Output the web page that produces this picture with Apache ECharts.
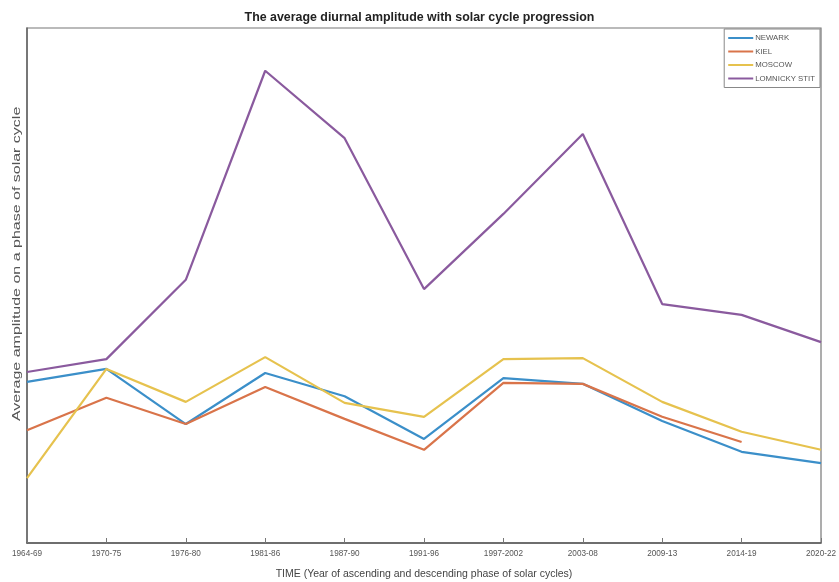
<!DOCTYPE html>
<html>
<head>
<meta charset="utf-8">
<script src="https://cdn.jsdelivr.net/npm/echarts@6/dist/echarts.min.js"></script>
<style>html,body{margin:0;padding:0;background:#fff;}#c{width:839px;height:582px;}</style>
</head>
<body>
<div id="c"></div>
<script>
const categories = ['1964-69','1970-75','1976-80','1981-86','1987-90','1991-96','1997-2002','2003-08','2009-13','2014-19','2020-22'];
const newark = [31.3, 33.8, 23.1, 33.0, 28.5, 20.2, 32.0, 30.9, 23.7, 17.7, 15.5];
const kiel = [21.9, 28.2, 23.1, 30.3, 24.1, 18.1, 31.1, 30.9, 24.5, 19.6, null];
const moscow = [12.6, 33.8, 27.4, 36.1, 27.2, 24.5, 35.7, 35.9, 27.4, 21.6, 18.1];
const lomnicky = [33.2, 35.7, 51.1, 91.7, 78.6, 49.3, 63.9, 79.4, 46.4, 44.3, 39.0];
const seriesNames = ['NEWARK','KIEL','MOSCOW','LOMNICKY STIT'];
const colors = ['#3b8fc9','#d9744a','#e6c24e','#8a5a9e'];

const chart = echarts.init(document.getElementById('c'), null, {renderer:'canvas'});
const font = 'Liberation Sans, Arial, sans-serif';
const dataSets = [newark, kiel, moscow, lomnicky];
chart.setOption({
  animation: false,
  backgroundColor: '#fff',
  color: colors,
  title: {
    text: 'The average diurnal amplitude with solar cycle progression',
    left: 'center', top: 7,
    textStyle: {fontFamily: font, fontSize: 12.4, fontWeight: 'bold', color: '#222'}
  },
  legend: {
    data: seriesNames,
    orient: 'vertical',
    right: 19, top: 29,
    padding: [4.5, 5, 4.5, 4],
    itemGap: 4.5,
    icon: 'rect',
    itemWidth: 25, itemHeight: 2,
    borderColor: '#888', borderWidth: 1,
    textStyle: {fontFamily: font, fontSize: 7.8, lineHeight: 9, color: '#555', padding: [0,0,0,-3]}
  },
  grid: {left: 27, right: 18, top: 28, bottom: 39, show: true, borderColor: '#777', borderWidth: 1.2, containLabel: false, outerBoundsMode: 'none'},
  xAxis: {
    type: 'category', data: categories, boundaryGap: false,
    axisLine: {lineStyle: {color: '#555', width: 1.5}},
    axisTick: {inside: true, length: 5, lineStyle: {color: '#777'}},
    axisLabel: {fontFamily: font, fontSize: 8.2, color: '#555', margin: 7, interval: 0},
    splitLine: {show: false},
    name: 'TIME (Year of ascending and descending phase of solar cycles)',
    nameLocation: 'middle', nameGap: 26,
    nameTextStyle: {fontFamily: font, fontSize: 10.5, color: '#444'}
  },
  yAxis: {
    type: 'value', min: 0, max: 100,
    axisLine: {show: true, lineStyle: {color: '#666', width: 1.5}},
    axisTick: {show: false}, axisLabel: {show: false}, splitLine: {show: false}
  },
  graphic: [{
    type: 'text', x: 11, y: 421,
    rotation: Math.PI/2,
    scaleX: 1.39,
    style: {text: 'Average amplitude on a phase of solar cycle', font: '11.5px Liberation Sans, Arial, sans-serif', fill: '#555', textAlign: 'left', textVerticalAlign: 'top'}
  }],
  series: seriesNames.map((n, i) => ({
    name: n, type: 'line', data: dataSets[i], symbol: 'none',
    lineStyle: {width: 2.2, color: colors[i]}
  }))
});
</script>
</body>
</html>
